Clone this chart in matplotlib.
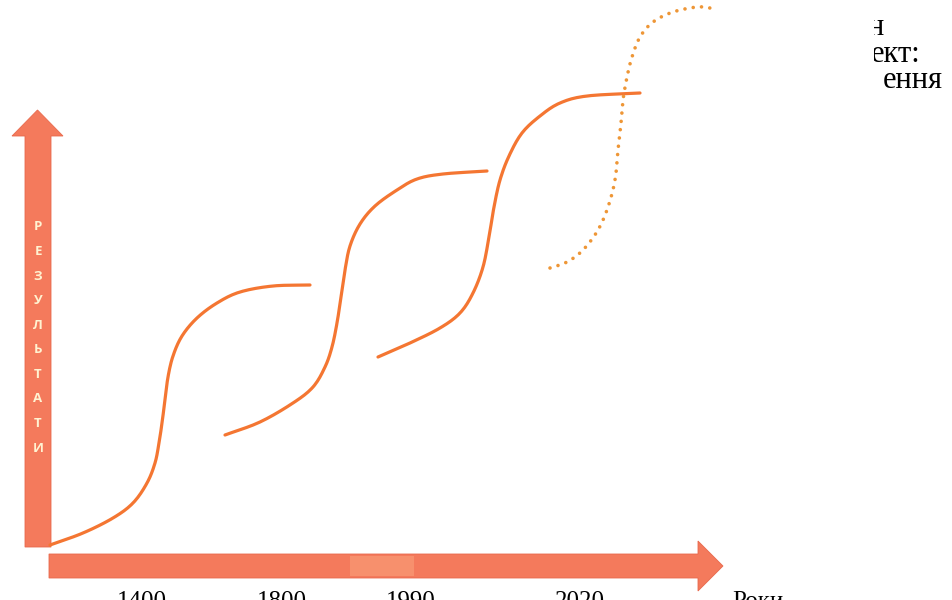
import numpy as np
import matplotlib
matplotlib.use("Agg")
import matplotlib.pyplot as plt
from matplotlib.patches import Polygon, Rectangle
from matplotlib.transforms import Bbox, TransformedBbox

# ---- data (pixel-like units: x right, y down) ----
year_labels = ["1400", "1800", "1990", "2020", "Роки"]
year_pos = [142, 282, 411, 580, 758]

axis_title = "РЕЗУЛЬТАТИ"

wave1_x = [50, 83, 113, 133, 147, 155, 159, 162, 165, 168, 173, 182, 197, 217, 240, 273, 310]
wave1_y = [545, 533, 518, 503, 483, 463, 443, 423, 400, 377, 356, 336, 318, 303, 292, 286, 285]

wave2_x = [225, 260, 293, 313, 325, 332, 337, 341, 345, 350, 360, 375, 397, 417, 443, 487]
wave2_y = [435, 422, 403, 387, 367, 347, 323, 297, 270, 246, 224, 206, 190, 179, 174, 171]

wave3_x = [378, 410, 440, 460, 473, 483, 489, 494, 500, 509, 522, 540, 560, 587, 640]
wave3_y = [357, 343, 328, 313, 293, 267, 237, 207, 180, 156, 133, 116, 103, 96, 93]

future_x = [550, 567, 583, 598, 608, 615, 618, 621, 623, 627, 632, 640, 653, 673, 697, 710]
future_y = [268, 262, 250, 230, 207, 180, 150, 123, 100, 77, 57, 37, 22, 12, 7, 8]

corner_lines = ["н", "ект:", "ення"]
corner_ends = [884, 920, 943]


def smooth(xs, ys, n=10):
    """Catmull-Rom rendering of the read points (for a smooth stroke)."""
    p = np.column_stack([xs, ys]).astype(float)
    p = np.vstack([2 * p[0] - p[1], p, 2 * p[-1] - p[-2]])
    out = []
    t = np.linspace(0, 1, n, endpoint=False)[:, None]
    for i in range(1, len(p) - 2):
        p0, p1, p2, p3 = p[i - 1], p[i], p[i + 1], p[i + 2]
        seg = 0.5 * ((2 * p1) + (-p0 + p2) * t + (2 * p0 - 5 * p1 + 4 * p2 - p3) * t ** 2
                     + (-p0 + 3 * p1 - 3 * p2 + p3) * t ** 3)
        out.append(seg)
    out.append(p[-2][None, :])
    out = np.vstack(out)
    return out[:, 0], out[:, 1]


fig = plt.figure(figsize=(9.52, 6.0), dpi=100)
ax = fig.add_axes([0, 0, 1, 1])
ax.set_xlim(0, 952)
ax.set_ylim(600, 0)
ax.axis("off")

arrow_c = "#F47A5C"

# vertical arrow
ax.add_patch(Polygon([(25, 547), (25, 136), (12, 136), (37.5, 110), (63, 136),
                      (51, 136), (51, 547)], closed=True, fc=arrow_c, ec="#E8694C", lw=0.6,
                     zorder=2))
# horizontal arrow
ax.add_patch(Polygon([(49, 554), (698, 554), (698, 541), (723, 566), (698, 591),
                      (698, 578), (49, 578)], closed=True, fc=arrow_c, ec="#E8694C", lw=0.6,
                     zorder=2))
ax.add_patch(Rectangle((350, 556), 64, 20, fc="#F7906D", ec="none", zorder=2.1))

# vertical title letters
ys = np.linspace(227, 448, len(axis_title))
for ch, yy in zip(axis_title, ys):
    ax.text(38, yy, ch, ha="center", va="center", color="#FFF3D2",
            fontsize=9.5, fontweight="bold", family="Open Sans", zorder=3)

line_c = "#F47632"
for xs, ysr in [(wave1_x, wave1_y), (wave2_x, wave2_y), (wave3_x, wave3_y)]:
    sx, sy = smooth(xs, ysr)
    ax.plot(sx, sy, color=line_c, lw=2.3, solid_capstyle="round", zorder=4)

fx, fy = smooth(future_x, future_y)
ax.plot(fx, fy, color="#EE9636", lw=2.6, linestyle=(0, (0.01, 2.3)),
        dash_capstyle="round", zorder=4)

# year labels (cut by the bottom edge, as in the original)
for lab, xp in zip(year_labels, year_pos):
    ax.text(xp, 608, lab, ha="center", va="baseline", fontsize=18,
            family="Liberation Serif", color="black", clip_on=False)

# corner text fragments (left part hidden, as in the original)
clipbox = TransformedBbox(Bbox([[874, 0], [952, 120]]), ax.transData)
for i, (t, xe) in enumerate(zip(corner_lines, corner_ends)):
    tx = ax.text(xe, 35 + i * 26.5, t, ha="right", va="baseline", fontsize=22,
                 family="Liberation Serif", color="black", clip_on=True)
    tx.set_clip_box(clipbox)

fig.savefig("out.png", dpi=100)
